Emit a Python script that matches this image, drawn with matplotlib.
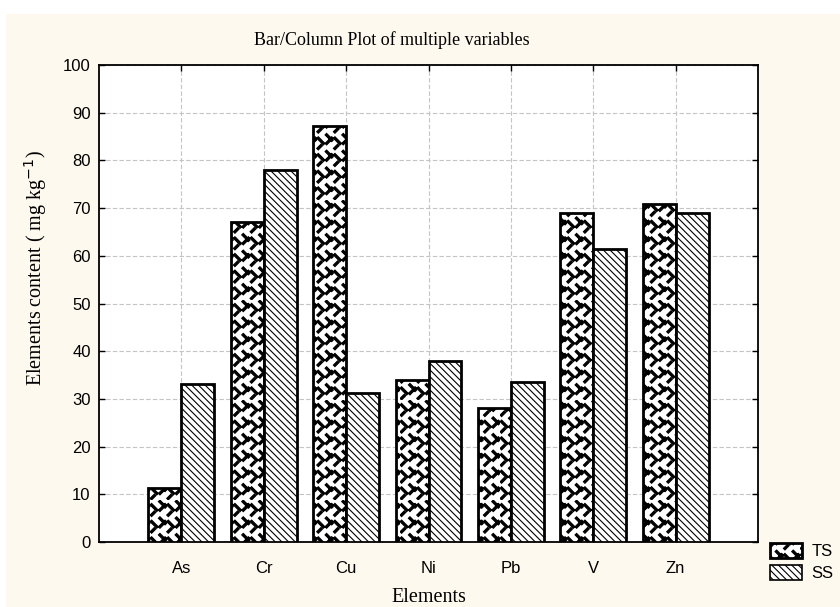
import warnings
import numpy as np
import matplotlib
matplotlib.use("Agg")
import matplotlib.pyplot as plt
import matplotlib.hatch as mhatch
from matplotlib.path import Path
from matplotlib.patches import Rectangle, Patch

warnings.filterwarnings("ignore")

# ---------------- data ----------------
elements = ["As", "Cr", "Cu", "Ni", "Pb", "V", "Zn"]
ts_values = [11.3, 67.0, 87.3, 34.0, 28.0, 69.0, 70.8]
ss_values = [33.2, 78.0, 31.2, 38.0, 33.5, 61.5, 69.0]
series_names = ["TS", "SS"]
yticks = [0, 10, 20, 30, 40, 50, 60, 70, 80, 90, 100]


# ---------------- custom "weave" hatch ----------------
class WeaveHatch(mhatch.HatchPatternBase):
    filled = True

    def __init__(self, hatch, density):
        self.n = int(round(hatch.count('w') * density * 1.0))
        self.half = 0.065
        self.segs = [
            ((0.05, 0.75), (0.45, 0.35)),
            ((0.55, 0.35), (0.95, 0.75)),
            ((0.55, 0.95), (0.95, 0.55)),
            ((0.05, 0.05), (0.30, 0.30)),
        ]
        self.num_vertices = self.n ** 2 * len(self.segs) * 5 if self.n else 0

    def set_vertices_and_codes(self, vertices, codes):
        n = self.n
        size = 1.0 / n
        verts = []
        cds = []
        for i in range(n):
            for j in range(n):
                ox, oy = i * size, j * size
                for (x0, y0), (x1, y1) in self.segs:
                    p0 = np.array([ox + x0 * size, oy + y0 * size])
                    p1 = np.array([ox + x1 * size, oy + y1 * size])
                    d = p1 - p0
                    d = d / np.hypot(*d)
                    nrm = np.array([-d[1], d[0]]) * self.half * size
                    verts += [p0 + nrm, p1 + nrm, p1 - nrm, p0 - nrm, p0 + nrm]
                    cds += [Path.MOVETO, Path.LINETO, Path.LINETO, Path.LINETO, Path.CLOSEPOLY]
        vertices[:] = np.array(verts)
        codes[:] = np.array(cds)


mhatch._hatch_types.append(WeaveHatch)

plt.rcParams['hatch.linewidth'] = 0.8
plt.rcParams['hatch.color'] = 'black'

TS_HATCH = 'w'
SS_HATCH = '\\\\\\\\\\'

fig = plt.figure(figsize=(8.4, 6.07), dpi=100)
fig.patch.set_facecolor('white')
fig.patches.append(Rectangle((6 / 840, 0), 1, 1 - 14 / 607, transform=fig.transFigure,
                             facecolor='#FDF9EE', edgecolor='none', zorder=-10))

ax = fig.add_axes([99 / 840, 1 - 542 / 607, (758 - 99) / 840, (542 - 65) / 607])
ax.set_facecolor('white')

x = np.arange(1, len(elements) + 1)
w = 0.4
ax.bar(x - w / 2, ts_values, width=w, facecolor='white', edgecolor='black',
       linewidth=2.0, hatch=TS_HATCH, zorder=3, label=series_names[0])
ax.bar(x + w / 2, ss_values, width=w, facecolor='white', edgecolor='black',
       linewidth=2.0, hatch=SS_HATCH, zorder=3, label=series_names[1])

ax.set_xlim(0, len(elements) + 1)
ax.set_ylim(0, 100)
ax.set_yticks(yticks)
ax.set_xticks(x)
ax.set_xticklabels(elements)

ax.grid(True, color='#c4c4c4', linestyle=(0, (4, 2)), linewidth=0.8, zorder=0)
for s in ax.spines.values():
    s.set_linewidth(1.3)
    s.set_color('black')

ax.tick_params(axis='both', direction='in', length=4, width=1,
               top=True, right=True, labelsize=12)
ax.tick_params(axis='x', pad=14)
ax.tick_params(axis='y', pad=6)
for lab in ax.get_xticklabels() + ax.get_yticklabels():
    lab.set_fontfamily('Liberation Sans')

fig.text(392 / 840, 1 - 40 / 607, "Bar/Column Plot of multiple variables",
         ha='center', va='center', family='Liberation Serif', fontsize=13)
fig.text(36 / 840, 1 - 268 / 607, "Elements content ( mg kg$^{-1}$)",
         rotation=90, ha='center', va='center', family='Liberation Serif', fontsize=14.5)
fig.text(429 / 840, 1 - 597 / 607, "Elements", ha='center', va='center',
         family='Liberation Serif', fontsize=14.5)

handles = [Patch(facecolor='white', edgecolor='black', hatch=TS_HATCH, linewidth=2.0),
           Patch(facecolor='white', edgecolor='black', hatch=SS_HATCH, linewidth=1.2)]
leg = fig.legend(handles, series_names, loc='center left',
                 bbox_to_anchor=(770 / 840, 1 - 562 / 607), frameon=False,
                 prop={'family': 'Liberation Sans', 'size': 12},
                 handlelength=1.9, handleheight=1.0, handletextpad=0.6,
                 labelspacing=0.35, borderpad=0.0, borderaxespad=0.0)

fig.savefig("out.png", dpi=100, facecolor=fig.get_facecolor())
